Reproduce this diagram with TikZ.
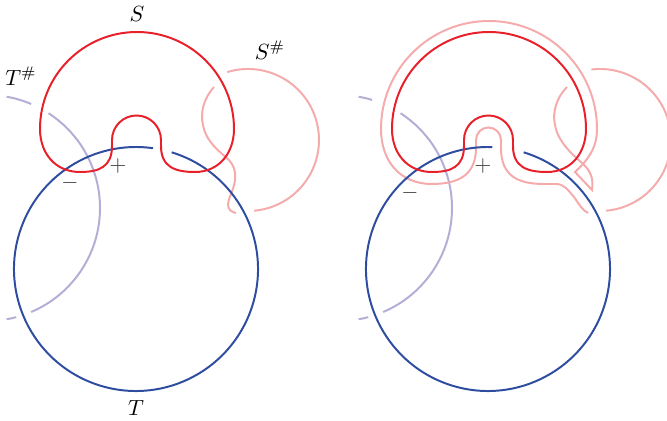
\documentclass[tikz,border=0pt]{standalone}
\definecolor{knotRed}{HTML}{E8202A}
\definecolor{knotPink}{HTML}{F5AAAC}
\definecolor{knotBlue}{HTML}{2E4DA0}
\definecolor{knotLav}{HTML}{B2AED8}
\usepackage{amsmath,amssymb}
\usepackage{tikz}

\begin{document}
\begin{tikzpicture}[
    x=0.016cm, y=-0.016cm,
    curveS/.style={knotRed, line width=0.9pt},
    curveT/.style={knotBlue, line width=0.9pt},
    sharpS/.style={knotPink, line width=0.9pt},
    sharpT/.style={knotLav, line width=0.9pt},
    lbl/.style={inner sep=1pt},
    sign/.style={inner sep=0pt, font=\normalsize, text=black!75}
  ]
    \useasboundingbox (0,0) rectangle (667,421);

    % Left: S, T and their pushoffs
    \draw[sharpT] (-13,208) ++(-80:113) arc[start angle=-80, end angle=-67, radius=113];
    \draw[sharpT] (-13,208) ++(-57:113) arc[start angle=-57, end angle=67, radius=113];
    \draw[sharpT] (-13,208) ++(75:113) arc[start angle=75, end angle=80, radius=113];

    \draw[sharpS] (248,140) ++(253:71) arc[start angle=253, end angle=445, radius=71];
    \draw[sharpS] (214,87) .. controls (204,98) and (200,112) .. (203,125)
      .. controls (206,142) and (220,152) .. (229,160)
      .. controls (238,170) and (236,182) .. (231,194)
      .. controls (227,203) and (226,211) .. (236,213);

    \draw[curveT] (136,269) ++(287:122) arc[start angle=287, end angle=638, radius=122];

    \draw[curveS] (112,146) .. controls (112,167) and (99,172) .. (80,172)
      .. controls (55,172) and (40,153) .. (40,129)
      arc[start angle=180, end angle=360, radius=97]
      .. controls (234,153) and (219,172) .. (195,172)
      .. controls (175,172) and (161,167) .. (161,146)
      -- (161,140) arc[start angle=0, end angle=-180, radius=24.5] -- cycle;

    \node[lbl] (labS) at (137,14) {$S$};
    \node[lbl] (labSs) at (270,50) {$S^{\#}$};
    \node[lbl] (labTs) at (21,76) {$T^{\#}$};
    \node[lbl] (labT) at (136,408) {$T$};
    \node[sign] (minL) at (70,183) {$-$};
    \node[sign] (plusL) at (118,166) {$+$};

    % Right: after the band move
    \begin{scope}[shift={(352,0)}]
      \draw[sharpT] (-13,208) ++(-80:113) arc[start angle=-80, end angle=-73, radius=113];
      \draw[sharpT] (-13,208) ++(-57:113) arc[start angle=-57, end angle=67, radius=113];
      \draw[sharpT] (-13,208) ++(75:113) arc[start angle=75, end angle=80, radius=113];

      \draw[sharpS] (248,140) ++(263:71) arc[start angle=263, end angle=445, radius=71];
      \draw[sharpS] (236,213) .. controls (230,210) and (227,204) .. (222,197)
        .. controls (216,190) and (212,184) .. (204,184) -- (192,184)
        .. controls (166,184) and (149,176) .. (149,148)
        -- (149,140) arc[start angle=0, end angle=-180, radius=12.5]
        -- (124,148) .. controls (124,176) and (105,184) .. (80,184)
        .. controls (47,184) and (29,160) .. (29,129)
        arc[start angle=180, end angle=360, radius=108]
        .. controls (245,148) and (236,160) .. (223,172) -- (240,190)
        .. controls (242,178) and (238,170) .. (230,163)
        .. controls (220,154) and (206,142) .. (203,125)
        .. controls (200,112) and (205,97) .. (215,87);

      \draw[curveT] (136,269) ++(287:122) arc[start angle=287, end angle=632, radius=122];

      \draw[curveS] (112,146) .. controls (112,167) and (99,172) .. (80,172)
        .. controls (55,172) and (40,153) .. (40,129)
        arc[start angle=180, end angle=360, radius=97]
        .. controls (234,153) and (219,172) .. (195,172)
        .. controls (175,172) and (161,167) .. (161,146)
        -- (161,140) arc[start angle=0, end angle=-180, radius=24.5] -- cycle;

      \node[sign] (minR) at (58,193) {$-$};
      \node[sign] (plusR) at (131,166) {$+$};
    \end{scope}
  \end{tikzpicture}
\end{document}
